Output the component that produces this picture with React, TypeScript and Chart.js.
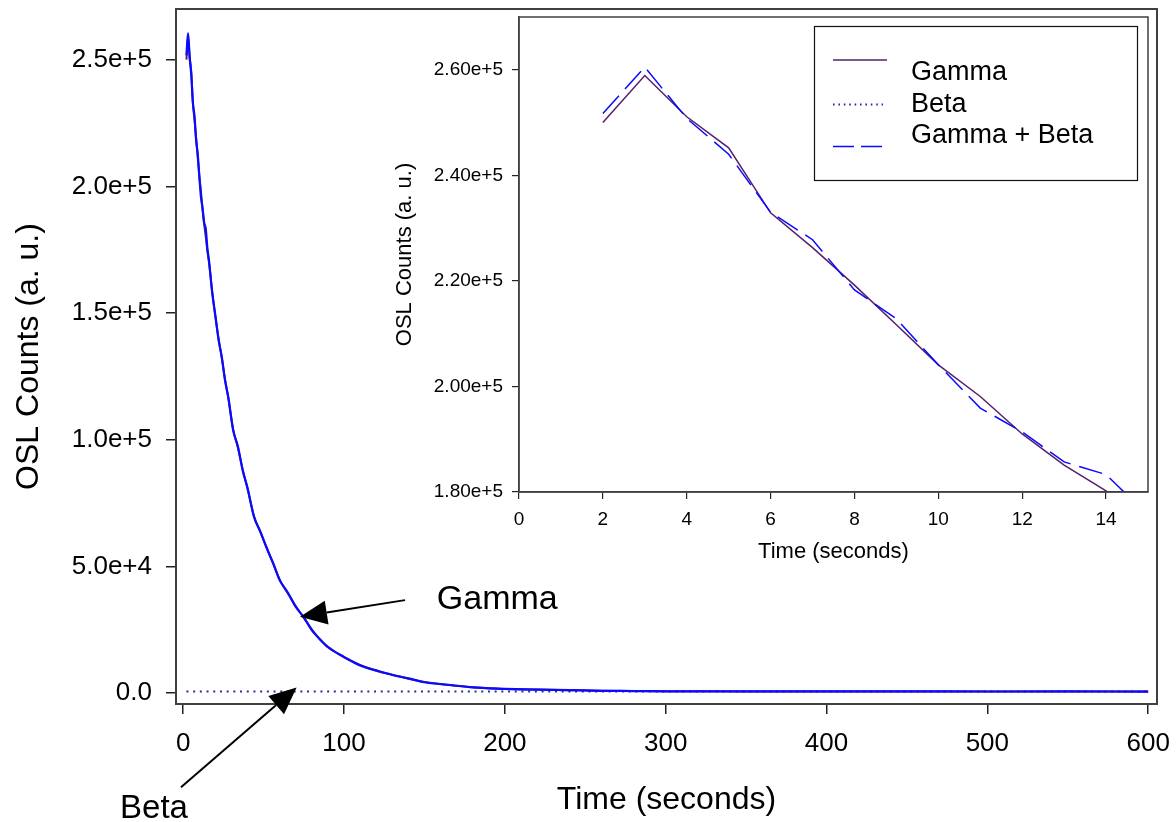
import React, { useEffect, useRef } from 'react';
import { Chart, registerables } from 'chart.js';

Chart.register(...registerables);

const FONT = "'Liberation Sans', Arial, Helvetica, sans-serif";

// ---------- main chart data ----------
const mainTime = [2, 3, 4, 5, 6, 7, 8, 9, 10, 11, 12, 13, 14, 15, 16, 18, 20, 22, 24, 26, 28, 31, 34, 37, 40, 44, 48, 52, 56, 60, 65, 70, 75, 80, 85, 90, 100, 110, 120, 130, 140, 150, 165, 180, 200, 220, 240, 260, 280, 300, 350, 400, 450, 500, 550, 600];
const mainGamma = [250000, 258900, 251100, 245200, 232900, 226300, 219200, 211700, 204100, 198100, 191000, 185100, 180200, 174500, 170100, 158600, 148400, 139800, 132100, 123800, 116500, 104300, 96800, 88200, 80600, 69900, 63400, 57300, 50900, 44800, 39400, 34300, 29700, 25100, 21100, 18300, 14100, 11100, 8800, 7300, 5700, 4400, 3200, 2300, 1650, 1400, 1150, 920, 800, 730, 680, 660, 650, 640, 640, 630];
const mainGammaBeta = [251700, 260500, 250800, 244000, 233000, 227800, 218300, 212800, 204100, 195900, 191400, 185700, 183300, 175600, 170800, 158100, 149000, 139300, 132600, 123300, 116900, 103800, 97300, 87800, 80900, 69500, 63700, 57000, 51200, 44500, 39700, 34000, 29900, 24800, 21300, 18100, 14300, 10900, 8950, 7150, 5800, 4300, 3300, 2250, 1700, 1350, 1180, 900, 820, 710, 690, 650, 660, 630, 650, 620];
const mainBeta = [610, 620, 600, 590, 605, 615, 600, 595, 610, 600, 590, 605, 600, 605, 610, 600, 595, 605, 600, 610, 590, 600, 605, 600, 615, 600, 595, 600, 610, 605, 600, 590, 600, 610, 600, 605, 600, 595, 600, 610, 600, 605, 600, 590, 600, 610, 600, 605, 600, 595, 600, 610, 600, 605, 600, 600];

const mainXTicks = [0, 100, 200, 300, 400, 500, 600];
const mainXTickLabels = ['0', '100', '200', '300', '400', '500', '600'];
const mainYTicks = [0, 50000, 100000, 150000, 200000, 250000];
const mainYTickLabels = ['0.0', '5.0e+4', '1.0e+5', '1.5e+5', '2.0e+5', '2.5e+5'];

// annotations, in data coordinates [time, counts]
const gammaArrowTail = [137.9, 36700];
const gammaArrowTip = [72.6, 30100];
const gammaLabelAt = [157.7, 33000];
const betaArrowTail = [-1.4, -37200];
const betaArrowTip = [70.5, 2250];
const betaLabelAt = [-39.3, -49200];

// ---------- inset data ----------
const insetTime = [2, 3, 4, 5, 6, 7, 8, 9, 10, 11, 12, 13, 14, 15];
const insetGamma = [250000, 258900, 251100, 245200, 232900, 226300, 219200, 211700, 204100, 198100, 191000, 185100, 180200, 174500];
const insetBeta = [610, 620, 600, 590, 605, 615, 600, 595, 610, 600, 590, 605, 600, 605];
const insetGammaBeta = [251700, 260500, 250800, 244000, 233000, 227800, 218300, 212800, 204100, 195900, 191400, 185700, 183300, 175600];

const insetXTicks = [0, 2, 4, 6, 8, 10, 12, 14];
const insetXTickLabels = ['0', '2', '4', '6', '8', '10', '12', '14'];
const insetYTicks = [180000, 200000, 220000, 240000, 260000];
const insetYTickLabels = ['1.80e+5', '2.00e+5', '2.20e+5', '2.40e+5', '2.60e+5'];

const seriesNames = ['Gamma', 'Beta', 'Gamma + Beta'];

const PURPLE = '#55206e';
const BLUE = '#0a0aff';
const NAVY = '#2a2aa8';

const pts = (xs: number[], ys: number[]) => xs.map((x, i) => ({ x, y: ys[i] }));

const framePlugin = {
  id: 'frame',
  afterDraw(chart: any, _args: any, opts: any) {
    const { ctx, chartArea: a } = chart;
    ctx.save();
    ctx.strokeStyle = opts.color || '#404040';
    ctx.lineWidth = opts.width || 1.5;
    ctx.strokeRect(a.left, a.top, a.right - a.left, a.bottom - a.top);
    ctx.restore();
  },
};

function drawArrow(ctx: CanvasRenderingContext2D, x0: number, y0: number, x1: number, y1: number) {
  const ang = Math.atan2(y1 - y0, x1 - x0);
  const len = 27;
  const half = 12;
  const bx = x1 - len * Math.cos(ang);
  const by = y1 - len * Math.sin(ang);
  ctx.beginPath();
  ctx.moveTo(x0, y0);
  ctx.lineTo(bx, by);
  ctx.stroke();
  ctx.beginPath();
  ctx.moveTo(x1, y1);
  ctx.lineTo(bx + half * Math.sin(ang), by - half * Math.cos(ang));
  ctx.lineTo(bx - half * Math.sin(ang), by + half * Math.cos(ang));
  ctx.closePath();
  ctx.fill();
}

const annotationPlugin = {
  id: 'notes',
  afterDraw(chart: any) {
    const { ctx } = chart;
    const sx = chart.scales.x;
    const sy = chart.scales.y;
    const px = (p: number[]) => [sx.getPixelForValue(p[0]), sy.getPixelForValue(p[1])];
    ctx.save();
    ctx.strokeStyle = '#000';
    ctx.fillStyle = '#000';
    ctx.lineWidth = 2;
    const [gx0, gy0] = px(gammaArrowTail);
    const [gx1, gy1] = px(gammaArrowTip);
    drawArrow(ctx, gx0, gy0, gx1, gy1);
    const [bx0, by0] = px(betaArrowTail);
    const [bx1, by1] = px(betaArrowTip);
    drawArrow(ctx, bx0, by0, bx1, by1);
    ctx.textAlign = 'left';
    ctx.textBaseline = 'alphabetic';
    ctx.font = `34px ${FONT}`;
    const [glx, gly] = px(gammaLabelAt);
    ctx.fillText(seriesNames[0], glx, gly);
    ctx.font = `33px ${FONT}`;
    const [blx, bly] = px(betaLabelAt);
    ctx.fillText(seriesNames[1], blx, bly);
    ctx.restore();
  },
};

const insetLegendPlugin = {
  id: 'insetLegend',
  afterDraw(chart: any) {
    const { ctx } = chart;
    ctx.save();
    ctx.strokeStyle = '#111';
    ctx.lineWidth = 1.2;
    ctx.strokeRect(434.5, 14.5, 323, 154);
    const lineYs = [48, 92.5, 134.5];
    const textYs = [68, 99.7, 131.3];
    const dashes = [[], [1.6, 3.8], [21, 7]];
    const ends = [507, 503, 503];
    const order = [0, 1, 2];
    order.forEach((di, i) => {
      const ds = chart.data.datasets[di];
      ctx.strokeStyle = ds.borderColor;
      ctx.lineWidth = di === 1 ? 1.8 : 1.5;
      ctx.setLineDash(dashes[i]);
      ctx.beginPath();
      ctx.moveTo(453, lineYs[i]);
      ctx.lineTo(ends[i], lineYs[i]);
      ctx.stroke();
      ctx.setLineDash([]);
      ctx.fillStyle = '#000';
      ctx.font = `27px ${FONT}`;
      ctx.textAlign = 'left';
      ctx.textBaseline = 'alphabetic';
      ctx.fillText(ds.label, 531, textYs[i]);
    });
    ctx.restore();
  },
};

const fitX = (h: number) => (s: any) => {
  s.height = h;
  s.paddingLeft = 0;
  s.paddingRight = 0;
  s.paddingTop = 0;
  s.paddingBottom = 0;
};
const fitY = (w: number) => (s: any) => {
  s.width = w;
  s.paddingLeft = 0;
  s.paddingRight = 0;
  s.paddingTop = 0;
  s.paddingBottom = 0;
};

export default function App() {
  const mainRef = useRef<HTMLCanvasElement>(null);
  const insetRef = useRef<HTMLCanvasElement>(null);

  useEffect(() => {
    Chart.defaults.font.family = FONT;
    Chart.defaults.color = '#000';

    const main = new Chart(mainRef.current as HTMLCanvasElement, {
      type: 'line',
      data: {
        datasets: [
          {
            label: seriesNames[2],
            data: pts(mainTime, mainGammaBeta),
            borderColor: BLUE,
            borderWidth: 2.2,
            pointRadius: 0,
            cubicInterpolationMode: 'monotone',
            order: 0,
          },
          {
            label: seriesNames[0],
            data: pts(mainTime, mainGamma),
            borderColor: PURPLE,
            borderWidth: 2,
            pointRadius: 0,
            cubicInterpolationMode: 'monotone',
            order: 1,
          },
          {
            label: seriesNames[1],
            data: pts(mainTime, mainBeta),
            borderColor: NAVY,
            borderWidth: 2,
            borderDash: [2, 4.7],
            pointRadius: 0,
            tension: 0,
            order: 2,
          },
        ],
      },
      options: {
        responsive: false,
        animation: false,
        devicePixelRatio: 1,
        layout: { padding: { top: 9, right: 19, left: 0, bottom: 0 } },
        plugins: {
          legend: { display: false },
          tooltip: { enabled: false },
          frame: { color: '#404040', width: 2 },
        } as any,
        scales: {
          x: {
            type: 'linear',
            min: -4.5,
            max: 605.5,
            afterFit: fitX(118),
            afterBuildTicks: (s: any) => { s.ticks = mainXTicks.map((v) => ({ value: v })); },
            ticks: {
              callback: (_v: any, i: number) => mainXTickLabels[i],
              font: { size: 26 },
              padding: 14,
              maxRotation: 0,
              autoSkip: false,
              color: '#000',
            },
            grid: { drawOnChartArea: false, drawTicks: true, tickLength: 10, color: '#222', lineWidth: 1.5 },
            border: { display: true, color: '#404040', width: 2 },
            title: { display: true, text: 'Time (seconds)', font: { size: 32 }, padding: { top: 0, bottom: 3 }, color: '#000' },
          },
          y: {
            type: 'linear',
            min: -4300,
            max: 270000,
            afterFit: fitY(176),
            afterBuildTicks: (s: any) => { s.ticks = mainYTicks.map((v) => ({ value: v })); },
            ticks: {
              callback: (_v: any, i: number) => mainYTickLabels[i],
              font: { size: 26 },
              padding: 14,
              autoSkip: false,
              color: '#000',
            },
            grid: { drawOnChartArea: false, drawTicks: true, tickLength: 10, color: '#222', lineWidth: 1.5 },
            border: { display: true, color: '#404040', width: 2 },
            title: { display: true, text: 'OSL Counts (a. u.)', font: { size: 32 }, padding: { top: 10, bottom: 0 }, color: '#000' },
          },
        },
      },
      plugins: [framePlugin, annotationPlugin],
    } as any);

    const inset = new Chart(insetRef.current as HTMLCanvasElement, {
      type: 'line',
      data: {
        datasets: [
          {
            label: seriesNames[0],
            data: pts(insetTime, insetGamma),
            borderColor: PURPLE,
            borderWidth: 1.5,
            pointRadius: 0,
            tension: 0,
            clip: 0,
            order: 1,
          },
          {
            label: seriesNames[1],
            data: pts(insetTime, insetBeta),
            borderColor: NAVY,
            borderWidth: 1.5,
            borderDash: [1.6, 3.8],
            pointRadius: 0,
            tension: 0,
            clip: 0,
            order: 2,
          },
          {
            label: seriesNames[2],
            data: pts(insetTime, insetGammaBeta),
            borderColor: BLUE,
            borderWidth: 1.5,
            borderDash: [24, 9],
            pointRadius: 0,
            tension: 0,
            clip: 0,
            order: 0,
          },
        ],
      },
      options: {
        responsive: false,
        animation: false,
        devicePixelRatio: 1,
        layout: { padding: { top: 5, right: 4, left: 0, bottom: 0 } },
        plugins: {
          legend: { display: false },
          tooltip: { enabled: false },
          frame: { color: '#404040', width: 1.5 },
        } as any,
        scales: {
          x: {
            type: 'linear',
            min: 0,
            max: 15,
            afterFit: fitX(83),
            afterBuildTicks: (s: any) => { s.ticks = insetXTicks.map((v) => ({ value: v })); },
            ticks: {
              callback: (_v: any, i: number) => insetXTickLabels[i],
              font: { size: 19 },
              padding: 9,
              maxRotation: 0,
              autoSkip: false,
              color: '#000',
            },
            grid: { drawOnChartArea: false, drawTicks: true, tickLength: 7, color: '#222', lineWidth: 1.2 },
            border: { display: true, color: '#404040', width: 1.5 },
            title: { display: true, text: 'Time (seconds)', font: { size: 22 }, padding: { top: 0, bottom: 10 }, color: '#000' },
          },
          y: {
            type: 'linear',
            min: 180000,
            max: 270000,
            afterFit: fitY(139),
            afterBuildTicks: (s: any) => { s.ticks = insetYTicks.map((v) => ({ value: v })); },
            ticks: {
              callback: (_v: any, i: number) => insetYTickLabels[i],
              font: { size: 19 },
              padding: 9,
              autoSkip: false,
              color: '#000',
            },
            grid: { drawOnChartArea: false, drawTicks: true, tickLength: 7, color: '#222', lineWidth: 1.2 },
            border: { display: true, color: '#404040', width: 1.5 },
            title: { display: true, text: 'OSL Counts (a. u.)', font: { size: 22 }, padding: { top: 12, bottom: 0 }, color: '#000' },
          },
        },
      },
      plugins: [framePlugin, insetLegendPlugin],
    } as any);

    return () => {
      main.destroy();
      inset.destroy();
    };
  }, []);

  return (
    <div style={{ position: 'absolute', left: 0, top: 0, width: 1176, height: 822, background: '#fff' }}>
      <canvas ref={mainRef} width={1176} height={822} style={{ position: 'absolute', left: 0, top: 0 }} />
      <canvas ref={insetRef} width={772} height={563} style={{ position: 'absolute', left: 380, top: 12, background: '#fff' }} />
    </div>
  );
}
